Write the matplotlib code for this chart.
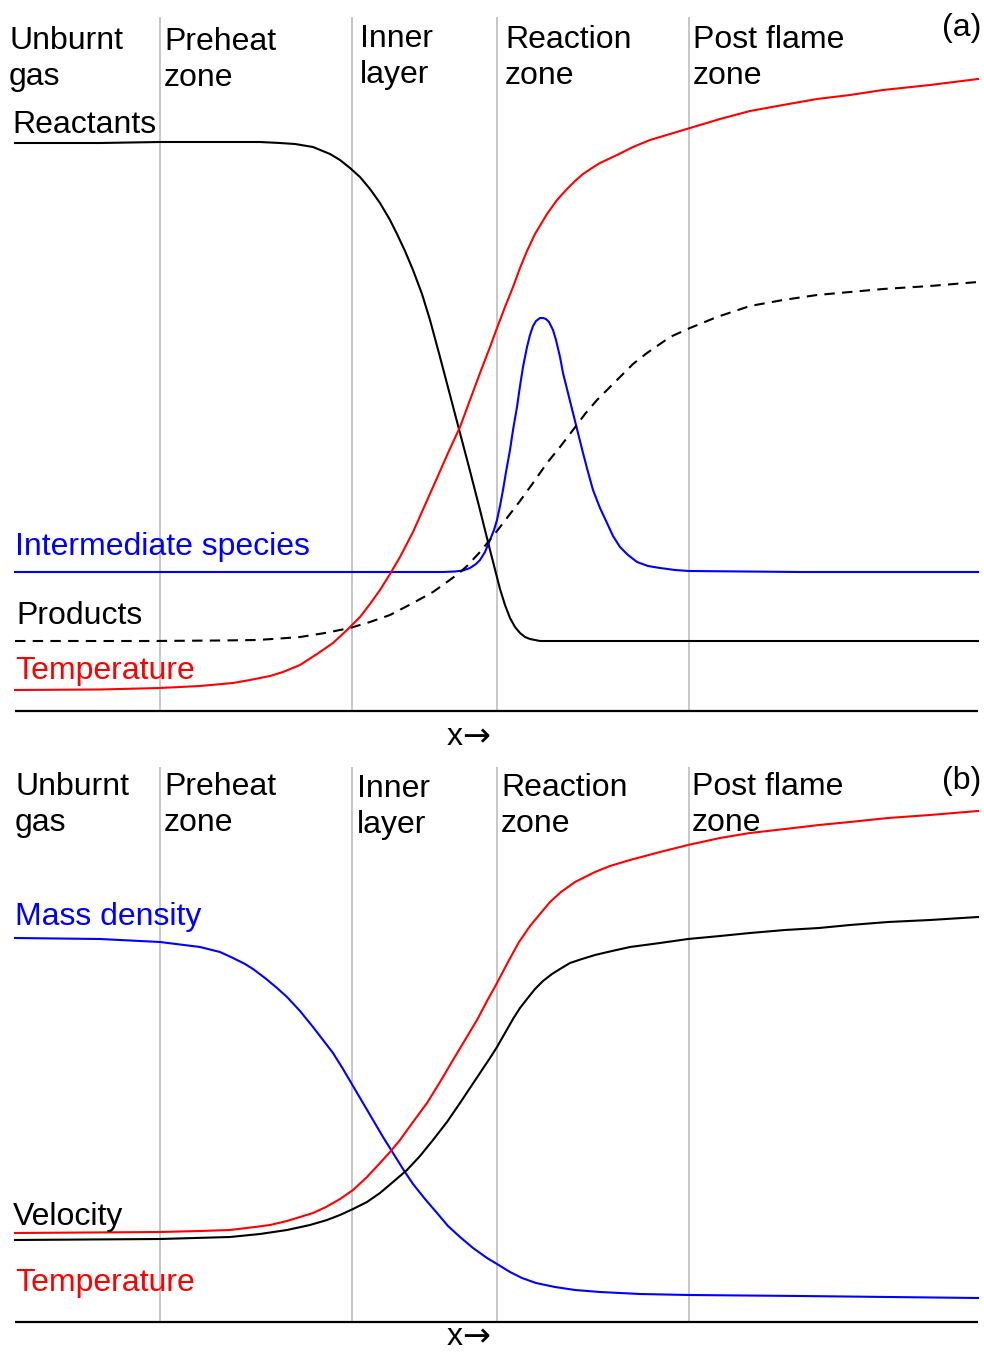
import matplotlib
matplotlib.use("Agg")
import matplotlib.pyplot as plt

plt.rcParams['font.family'] = ['Liberation Sans', 'DejaVu Sans']

W, H = 984, 1354

# zone boundaries (x, px units) shared by both panels
zone_edges = [160, 352, 497, 689]
zone_labels = ["Unburnt\ngas", "Preheat\nzone", "Inner\nlayer", "Reaction\nzone", "Post flame\nzone"]

# values below are read off the picture, y measured downward (same units as x)
# ---- panel (a) ----
react_x = [15, 100, 160, 220, 260, 280, 295, 313, 330, 340, 350, 360, 370, 380, 390, 397,
           405, 413, 422, 430, 440, 450, 460, 470, 480, 490, 500,
           505, 510, 515, 520, 525, 530, 540, 547, 700, 978]
react_y = [143, 143, 142, 142, 142, 143, 144, 147, 154, 160, 168, 177, 189, 203, 220, 234,
           251, 270, 294, 320, 357, 395, 433, 471, 510, 550, 589,
           605, 618, 627, 633, 637, 639, 641, 641, 641, 641]

inter_x = [15, 200, 443, 455, 463, 470, 476, 480, 485, 490, 494, 497, 500, 503, 506, 510,
           513, 517, 520, 523, 527, 530, 533, 536, 540, 543, 546, 549, 553, 556, 560, 563,
           568, 573, 578, 583, 588, 593, 600, 607, 613, 620, 628, 637, 648, 660, 675, 689,
           800, 978]
inter_y = [572, 572, 572, 571.5, 570.5, 568, 564, 560, 552, 540, 530, 520, 506, 490, 472, 450,
           430, 407, 386, 367, 347, 335, 326, 321, 318, 318, 319, 322, 330, 340, 357, 373,
           393, 413, 433, 453, 472, 490, 508, 523, 536, 547, 555, 562, 566, 568, 570, 571,
           572, 572]

prod_x = [15, 150, 220, 257, 280, 300, 325, 350, 370, 390, 413, 433, 447, 458, 467, 480,
          497, 510, 520, 533, 547, 560, 573, 585, 597, 610, 620, 633, 647, 660, 670, 690,
          717, 750, 783, 817, 850, 883, 930, 978]
prod_y = [641, 641, 640.5, 640, 638.5, 637, 633, 628, 622, 615, 603, 592, 582, 574, 566, 552,
          531, 514, 501, 483, 463, 447, 430, 414, 400, 387, 377, 364, 353, 344, 337, 328,
          317, 306, 300, 295, 292, 289, 286, 282]

temp_a_x = [15, 100, 160, 200, 233, 250, 270, 283, 300, 317, 333, 347, 360, 370, 380, 390,
            400, 413, 425, 437, 448, 460, 470, 480, 490, 497, 505, 513, 520, 527, 535, 547,
            557, 567, 575, 583, 592, 600, 617, 633, 650, 670, 690, 720, 750, 783, 817, 850,
            883, 930, 978]
temp_a_y = [690, 689.5, 688, 686, 683, 680, 676, 672, 665, 654, 643, 630, 617, 604, 590, 574,
            557, 532, 505, 478, 453, 427, 400, 373, 347, 328, 307, 287, 268, 251, 234, 214,
            200, 189, 181, 174, 168, 163, 155, 147, 140, 134, 128, 119, 111, 105, 99, 95,
            90, 85, 79]

# ---- panel (b) ----
dens_x = [15, 100, 160, 200, 220, 233, 245, 253, 265, 277, 287, 300, 313, 323, 333, 343,
          353, 363, 373, 383, 393, 403, 413, 425, 437, 448, 460, 473, 487, 497, 510, 522,
          536, 555, 575, 600, 640, 689, 800, 978]
dens_y = [938, 939, 942, 947, 952, 958, 964, 969, 978, 988, 997, 1011, 1027, 1040, 1053, 1069,
          1086, 1103, 1120, 1137, 1153, 1169, 1184, 1199, 1213, 1226, 1237, 1248, 1258, 1264, 1272, 1278,
          1283, 1287, 1290, 1292, 1294, 1295, 1296, 1298]

temp_b_x = [15, 160, 200, 230, 255, 270, 287, 300, 313, 326, 340, 353, 367, 380, 390, 400,
            413, 427, 440, 453, 465, 477, 487, 497, 508, 519, 530, 540, 550, 561, 575, 595,
            610, 630, 660, 688, 720, 750, 785, 819, 850, 888, 930, 978]
temp_b_y = [1233, 1232, 1231, 1230, 1227, 1225, 1221, 1217, 1213, 1207, 1199, 1190, 1177, 1163, 1152, 1140,
            1122, 1103, 1082, 1060, 1040, 1020, 1001, 983, 962, 942, 926, 914, 902, 892, 882, 872,
            866, 860, 852, 845, 838, 833, 829, 825, 822, 818, 815, 811]

vel_x = [15, 160, 230, 260, 287, 310, 327, 340, 353, 367, 380, 393, 407, 420, 433, 447,
         460, 470, 480, 490, 497, 505, 513, 520, 527, 535, 543, 552, 560, 570, 582, 595,
         612, 630, 660, 688, 720, 750, 785, 819, 850, 888, 930, 978]
vel_y = [1240, 1239, 1237, 1234, 1230, 1225, 1220, 1215, 1209, 1202, 1193, 1182, 1170, 1156, 1140, 1122,
         1103, 1088, 1073, 1058, 1047, 1033, 1019, 1008, 999, 989, 981, 974, 969, 963, 959, 955,
         951, 947, 943, 939, 936, 933, 930, 928, 925, 922, 920, 917]

FS = 23
LW = 1.5
GRAY = '#c3c3c3'
BLUE = '#0000ff'
RED = '#ff0000'

fig = plt.figure(figsize=(W / 100, H / 100), dpi=100)
ax_a = fig.add_axes([0, (H - 711) / H, 1, 711 / H])
ax_b = fig.add_axes([0, (H - 1322) / H, 1, (1322 - 760) / H])
ax_a.set_ylim(711, 0)
ax_b.set_ylim(1322, 760)


def frame(ax, top, bottom, label_pos, tag, tag_y, arrow_y):
    ax.set_xlim(0, W)
    ax.axis('off')
    ax.vlines(zone_edges, top, bottom, colors=GRAY, lw=1.3, clip_on=False, zorder=1)
    ax.hlines(bottom, 15, 978, colors='black', lw=1.6, clip_on=False, zorder=3)
    for (lx, ly), lab in zip(label_pos, zone_labels):
        ax.text(lx, ly, lab, fontsize=FS, ha='left', va='center', linespacing=1.27)
    ax.text(981, tag_y, tag, fontsize=FS, ha='right', va='center')
    ax.text(463, arrow_y, "x", fontsize=FS, ha='right', va='center')
    ax.text(462, arrow_y, "\u2192", fontsize=24, ha='left', va='center',
            family=['DejaVu Sans'])


frame(ax_a, 17, 711, [(9, 59), (164, 60), (360, 57), (505, 58), (693, 58)], "(a)", 28, 737)
frame(ax_b, 767, 1322, [(15, 805), (164, 805), (357, 807), (501, 806), (692, 805)], "(b)", 781, 1337)

ax_a.plot(react_x, react_y, color='black', lw=LW, zorder=2)
ax_a.plot(inter_x, inter_y, color=BLUE, lw=LW, zorder=2)
ax_a.plot(prod_x, prod_y, color='black', lw=LW, ls=(0, (5, 3.5)), zorder=2)
ax_a.plot(temp_a_x, temp_a_y, color=RED, lw=LW, zorder=2)

ax_a.text(12, 125, "Reactants", fontsize=FS, ha='left', va='center')
ax_a.text(15, 547, "Intermediate species", fontsize=FS, ha='left', va='center', color=BLUE)
ax_a.text(16, 616, "Products", fontsize=FS, ha='left', va='center')
ax_a.text(15, 671, "Temperature", fontsize=FS, ha='left', va='center', color=RED)

ax_b.plot(dens_x, dens_y, color=BLUE, lw=LW, zorder=2)
ax_b.plot(temp_b_x, temp_b_y, color=RED, lw=LW, zorder=2)
ax_b.plot(vel_x, vel_y, color='black', lw=LW, zorder=2)

ax_b.text(15, 917, "Mass density", fontsize=FS, ha='left', va='center', color=BLUE)
ax_b.text(13, 1217, "Velocity", fontsize=FS, ha='left', va='center')
ax_b.text(15, 1283, "Temperature", fontsize=FS, ha='left', va='center', color=RED)

fig.savefig("out.png", dpi=100)
